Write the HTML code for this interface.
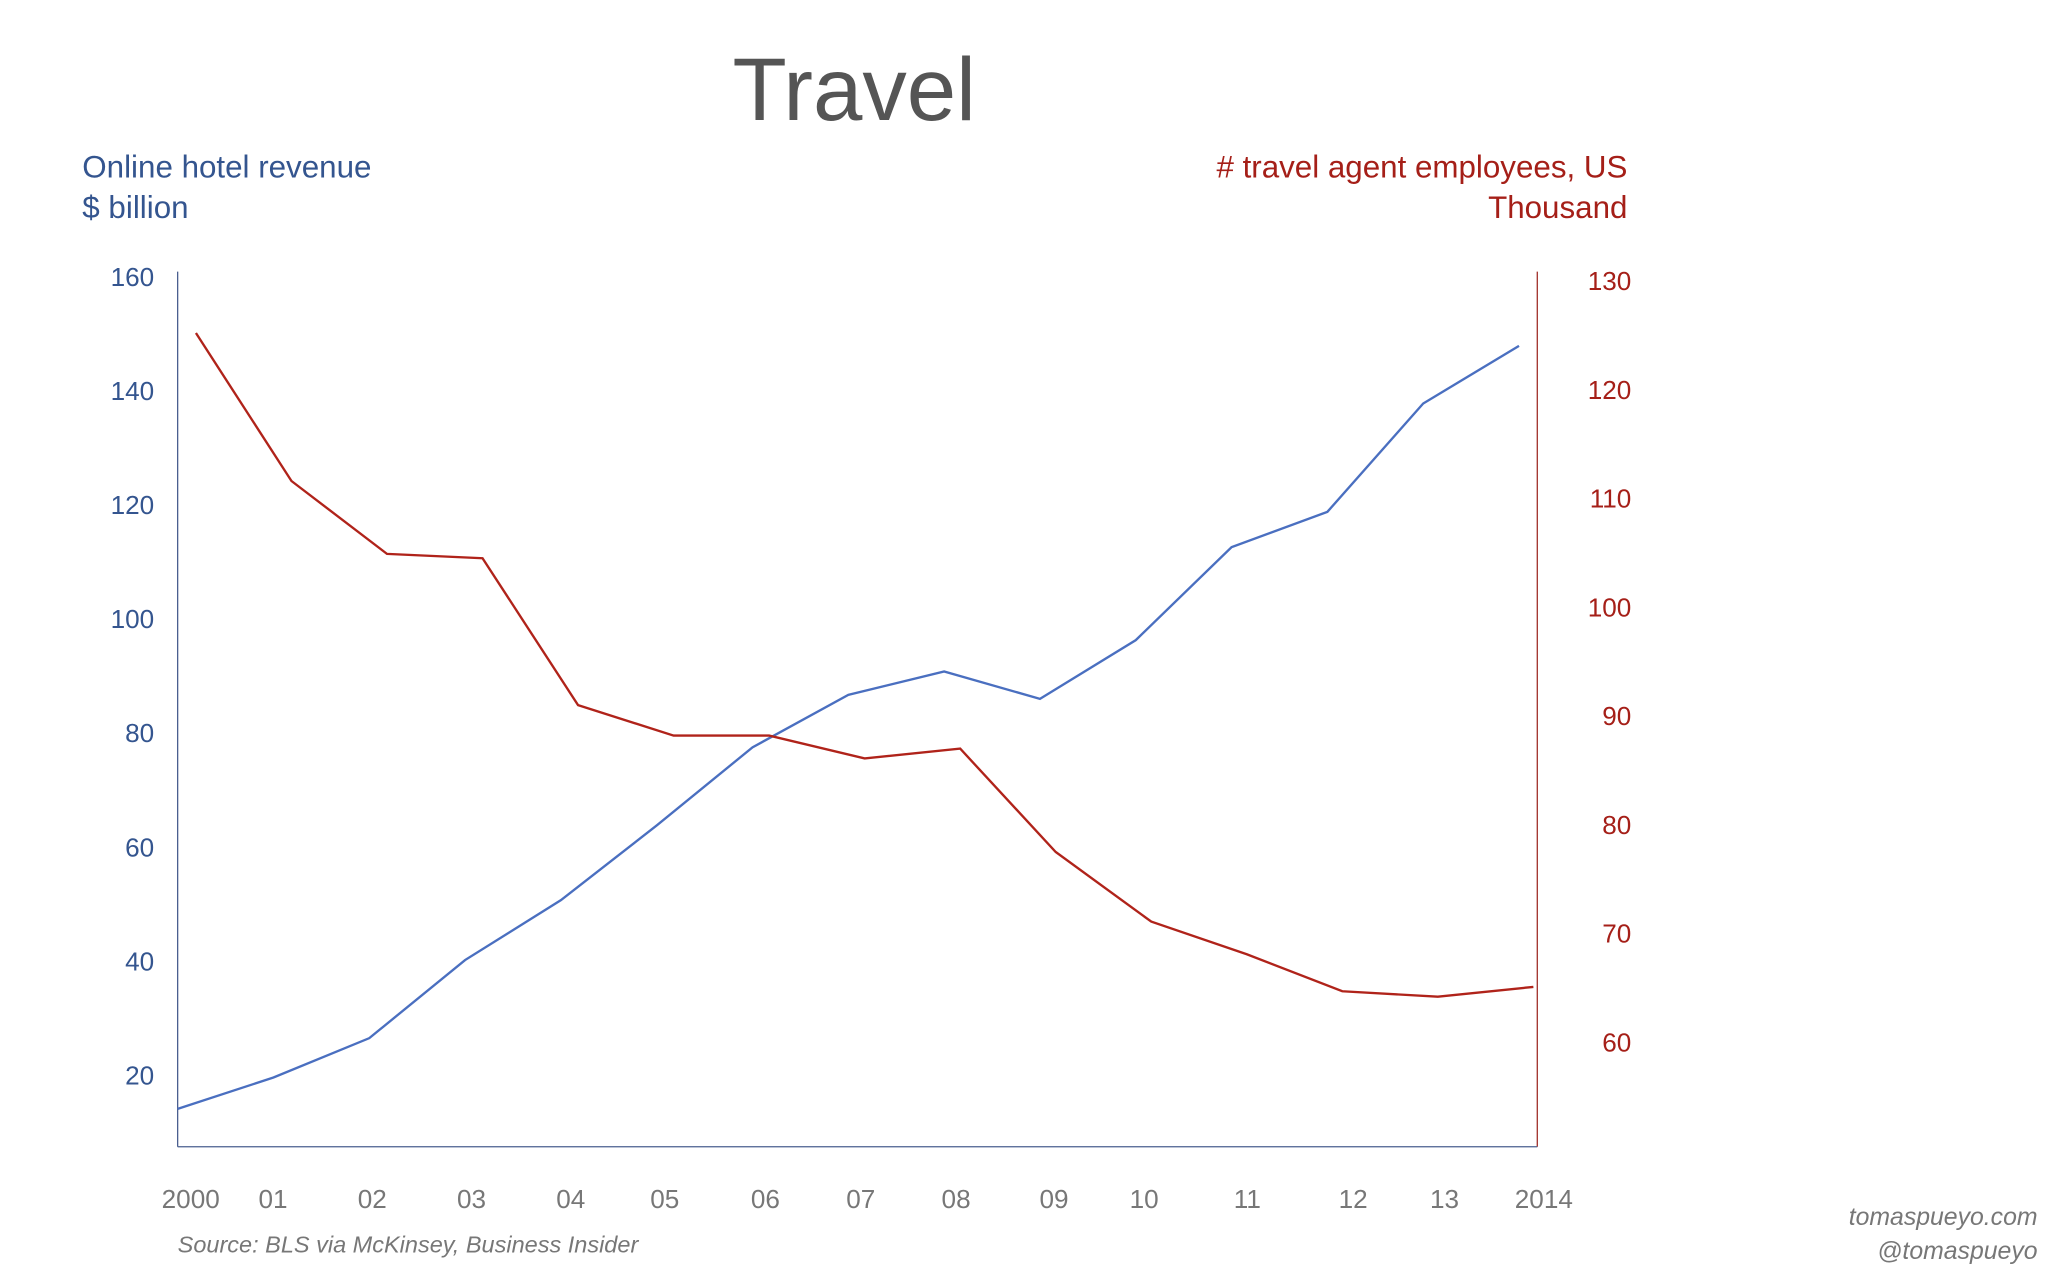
<!DOCTYPE html>
<html><head><meta charset="utf-8"><style>
html,body{margin:0;padding:0;background:#fff;}
svg{display:block;font-family:"Liberation Sans",sans-serif;}
</style></head><body>
<svg id="chart" width="2048" height="1269" viewBox="0 0 1568 971.6" xmlns="http://www.w3.org/2000/svg">
<text x="654" y="92" text-anchor="middle" font-size="68" fill="#555">Travel</text>
<text x="63" y="136" font-size="24" fill="#34558f">Online hotel revenue</text>
<text x="63" y="167" font-size="24" fill="#34558f">$ billion</text>
<text x="1246" y="136" text-anchor="end" font-size="24" fill="#a51f18"># travel agent employees, US</text>
<text x="1246" y="167" text-anchor="end" font-size="24" fill="#a51f18">Thousand</text>
<line x1="136" y1="208" x2="136" y2="878" stroke="#4a5f8f" stroke-width="1"/>
<line x1="1177" y1="208" x2="1177" y2="878" stroke="#a0302a" stroke-width="1"/>
<line x1="136" y1="878" x2="1177" y2="878" stroke="#4a5f8f" stroke-width="1"/>
<g id="ticks"></g>
<g id="series"></g>
<text x="136" y="959" font-size="18" font-style="italic" fill="#777">Source: BLS via McKinsey, Business Insider</text>
<text x="1560" y="938" text-anchor="end" font-size="19" font-style="italic" fill="#777">tomaspueyo.com</text>
<text x="1560" y="964" text-anchor="end" font-size="19" font-style="italic" fill="#777">@tomaspueyo</text>
</svg>
<script>
const years = ["2000","01","02","03","04","05","06","07","08","09","10","11","12","13","2014"];
const revenue = [14.1,19.6,26.5,40.2,50.7,63.8,77.5,86.7,90.8,86.0,96.3,112.6,118.8,137.8,147.9];
const employees = [125.2,111.6,104.9,104.5,91.0,88.2,88.2,86.1,87.0,77.5,71.1,68.1,64.7,64.2,65.1];
const leftTicks = [20,40,60,80,100,120,140,160];
const rightTicks = [60,70,80,90,100,110,120,130];
const labelX = [146,209,285,361,437,509,586,659,732,807,876,955,1036,1106,1182];

const NS="http://www.w3.org/2000/svg";
const yL = v => 212 + (160 - v) * 4.366;
const yR = v => 215 + (130 - v) * 8.33;
const xBlue = i => 136 + i * (1163 - 136) / (years.length - 1);
const xRed = i => 150 + i * (1174 - 150) / (years.length - 1);
const ticks=document.getElementById('ticks'), series=document.getElementById('series');
function mk(tag, attrs, parent, txt){const e=document.createElementNS(NS,tag);for(const k in attrs)e.setAttribute(k,attrs[k]);if(txt!==undefined)e.textContent=txt;parent.appendChild(e);return e;}
leftTicks.forEach(v=>{
  const t=mk('text',{x:118,y:yL(v)+7,'text-anchor':'end','font-size':20,fill:'#34558f'},ticks,String(v));
  
  
});
rightTicks.forEach(v=>{
  const t=mk('text',{x:1249,y:yR(v)+7,'text-anchor':'end','font-size':20,fill:'#a51f18'},ticks,String(v));
  
  
});
years.forEach((y,i)=>{
  const t=mk('text',{x:labelX[i],y:925,'text-anchor':'middle','font-size':20,fill:'#777'},ticks,y);
  
  
});
const pb=mk('polyline',{points:revenue.map((v,i)=>xBlue(i)+','+yL(v)).join(' '),fill:'none',stroke:'#4a6fc0','stroke-width':1.8},series);


const pr=mk('polyline',{points:employees.map((v,i)=>xRed(i)+','+yR(v)).join(' '),fill:'none',stroke:'#b0231a','stroke-width':1.8},series);


</script>
</body></html>
